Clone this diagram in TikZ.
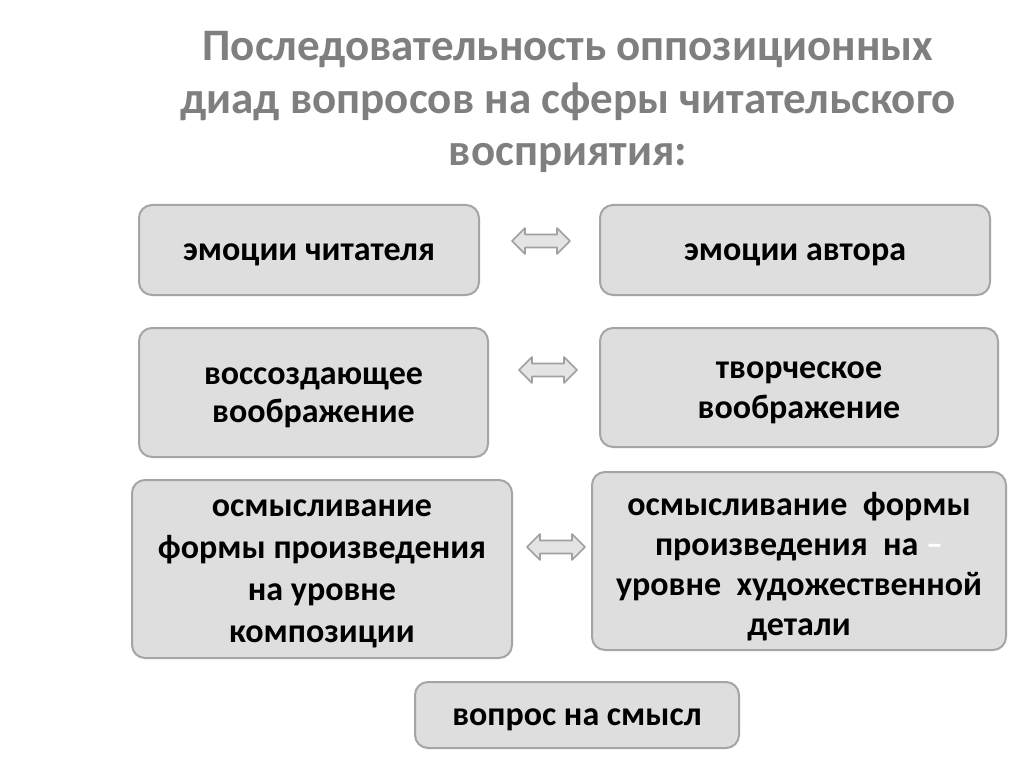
\documentclass[tikz,border=0pt]{standalone}
\usepackage{fontspec}
\setmainfont{Carlito}
\definecolor{boxfill}{HTML}{DEDEDE}
\definecolor{boxdraw}{HTML}{A5A5A5}
\definecolor{titlegray}{HTML}{7F7F7F}
\definecolor{arrfill}{HTML}{E4E4E4}
\definecolor{arrdraw}{HTML}{A0A0A0}
\tikzset{
  box/.style={draw=boxdraw, line width=2pt, fill=boxfill, rounded corners=13pt, inner sep=0pt},
  btext/.style={align=center, inner sep=0pt, yshift=-5, font=\fontsize{34}{#1}\selectfont\bfseries},
  btext/.default=41,
  darr/.pic={\draw[arrdraw, fill=arrfill, line width=1.6pt, line join=round]
    (-29,0) -- (-16,-13) -- (-16,-6.5) -- (16,-6.5) -- (16,-13) -- (29,0)
    -- (16,13) -- (16,6.5) -- (-16,6.5) -- (-16,13) -- cycle;}
}
\begin{document}
\begin{tikzpicture}[x=1pt,y=-1pt]
\useasboundingbox[fill=white] (0,0) rectangle (1024,767);
\node[font=\fontsize{45}{52.5}\selectfont\bfseries, text=titlegray, align=center] (title) at (568,102)
  {Последовательность оппозиционных\\диад вопросов на сферы читательского\\восприятия:};
\node[box, minimum width=340, minimum height=90] (b1) at (309,250) {};
\node[box, minimum width=390, minimum height=90] (b2) at (795,250) {};
\node[box, minimum width=349, minimum height=129] (b3) at (313.5,392.5) {};
\node[box, minimum width=398, minimum height=119] (b4) at (799,387.5) {};
\node[box, minimum width=380, minimum height=178] (b5) at (322,569) {};
\node[box, minimum width=414, minimum height=178] (b6) at (799,561) {};
\node[box, minimum width=324, minimum height=66] (b7) at (577,715) {};
\node[btext] (t1) at (b1.center) {эмоции читателя};
\node[btext] (t2) at (b2.center) {эмоции автора};
\node[btext=38] (t3) at (b3.center) {воссоздающее\\воображение};
\node[btext=40] (t4) at (b4.center) {творческое\\воображение};
\node[btext=42] (t5) at (b5.center) {осмысливание\\формы произведения\\на уровне\\композиции};
\node[btext=40] (t6) at ([yshift=-1]b6.center) {осмысливание\ \ формы\\произведения\ \ на \textcolor{white}{–}\\уровне\ \ художественной\\детали};
\node[btext] (t7) at (b7.center) {вопрос на смысл};
\pic (a1) at (541,241) {darr};
\pic (a2) at (548,370) {darr};
\pic (a3) at (556,547) {darr};
\end{tikzpicture}
\end{document}
